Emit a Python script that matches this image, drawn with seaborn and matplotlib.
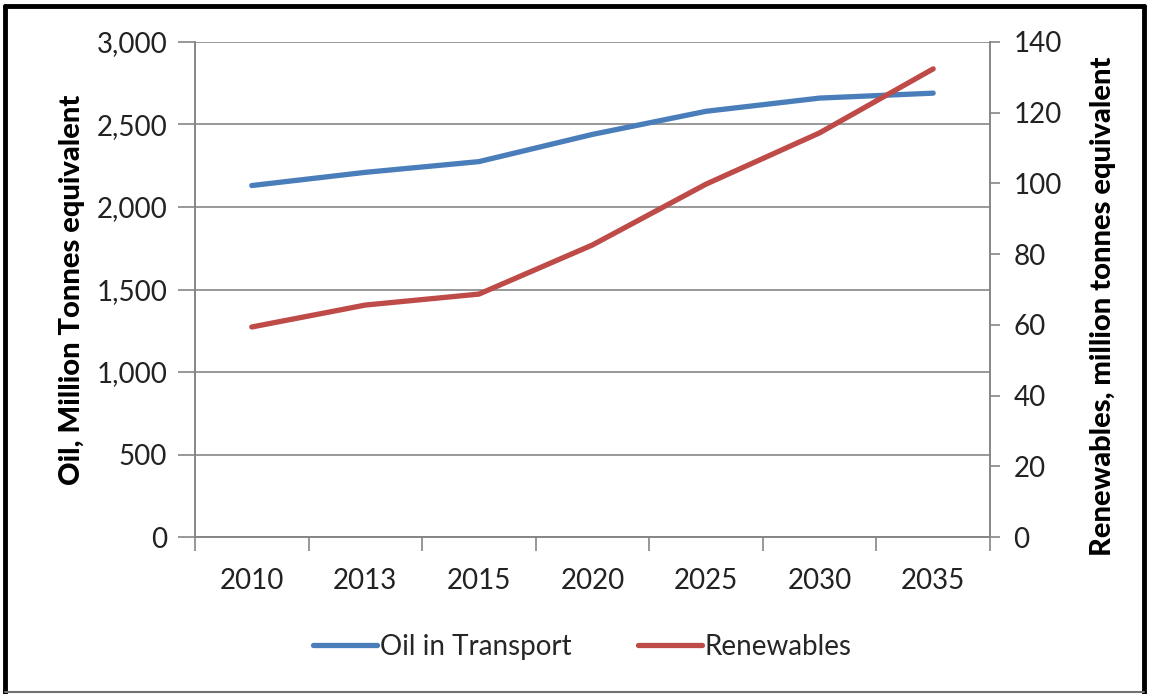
import pandas as pd
import seaborn as sns
import matplotlib.pyplot as plt
from matplotlib.lines import Line2D
from matplotlib.ticker import FuncFormatter

years = ["2010", "2013", "2015", "2020", "2025", "2030", "2035"]
oil_transport = [2130, 2210, 2275, 2440, 2580, 2660, 2690]
renewables = [59.4, 65.6, 68.7, 82.6, 99.8, 114.3, 132.4]

df = pd.DataFrame({"pos": range(len(years)), "oil": oil_transport, "ren": renewables})

sns.set_theme(style="white")
plt.rcParams["font.family"] = ["Lato", "DejaVu Sans"]

blue = "#4A7EBB"
red = "#BE4B48"
grid_c = "#868686"
lw = 3.8

fig = plt.figure(figsize=(11.49, 6.94), dpi=100)
ax = fig.add_axes([0.1697, 0.2262, 0.8616 - 0.1697, 0.9395 - 0.2262])
ax2 = ax.twinx()

sns.lineplot(data=df, x="pos", y="oil", ax=ax, color=blue, linewidth=lw,
             solid_capstyle="round", legend=False)
sns.lineplot(data=df, x="pos", y="ren", ax=ax2, color=red, linewidth=lw,
             solid_capstyle="round", legend=False)

ax.set_xlim(-0.5, len(years) - 0.5)
ax.set_ylim(0, 3000)
ax2.set_ylim(0, 140)
ax.set_yticks(range(0, 3001, 500))
ax2.set_yticks(range(0, 141, 20))
ax.yaxis.set_major_formatter(FuncFormatter(lambda v, p: f"{int(v):,}"))

# category ticks at boundaries, labels centred
ax.set_xticks([i - 0.5 for i in range(len(years) + 1)])
ax.set_xticklabels([])
ax.set_xticks(range(len(years)), minor=True)
ax.set_xticklabels(years, minor=True)
ax.tick_params(axis="x", which="major", direction="out", length=10, width=1.2,
               color=grid_c, bottom=True)
ax.tick_params(axis="x", which="minor", length=0, pad=22, labelsize=20, labelcolor="#222222")
ax.tick_params(axis="y", direction="out", length=12, width=1.2, color=grid_c,
               left=True, labelsize=20, labelcolor="#222222", pad=8)
ax2.tick_params(axis="y", direction="out", length=7, width=1.2, color=grid_c,
                right=True, labelsize=20, labelcolor="#222222", pad=10)

ax.grid(axis="y", color=grid_c, linewidth=1.2)
ax.grid(axis="x", visible=False)
ax2.grid(False)
for a in (ax, ax2):
    a.spines["top"].set_visible(False)
    for side in ("left", "right", "bottom"):
        a.spines[side].set_color(grid_c)
        a.spines[side].set_linewidth(1.2)

ax.set_xlabel("")
ax.set_ylabel("Oil, Million Tonnes equivalent", fontsize=21, fontweight="black",
              color="black", labelpad=8)
ax2.set_ylabel("Renewables, million tonnes equivalent", fontsize=21,
               fontweight="black", color="black", labelpad=20, y=0.466)

handles = [Line2D([0], [0], color=blue, lw=lw, solid_capstyle="round"),
           Line2D([0], [0], color=red, lw=lw, solid_capstyle="round")]
fig.legend(handles, ["Oil in Transport", "Renewables"], loc="center",
           bbox_to_anchor=(0.507, 0.068), ncol=2, frameon=False, fontsize=20,
           handlelength=2.3, handletextpad=0.1, columnspacing=2.4)

# outer frame
fig.add_artist(Line2D([0.004, 0.996], [0.991, 0.991], color="black", lw=3.5,
                      transform=fig.transFigure))
fig.add_artist(Line2D([0.004, 0.004], [0.0, 0.991], color="black", lw=3.5,
                      transform=fig.transFigure))
fig.add_artist(Line2D([0.996, 0.996], [0.0, 0.991], color="black", lw=3.5,
                      transform=fig.transFigure))
fig.add_artist(Line2D([0.004, 0.996], [0.003, 0.003], color="#707070", lw=1.5,
                      transform=fig.transFigure))

fig.savefig("out.png", dpi=100)
